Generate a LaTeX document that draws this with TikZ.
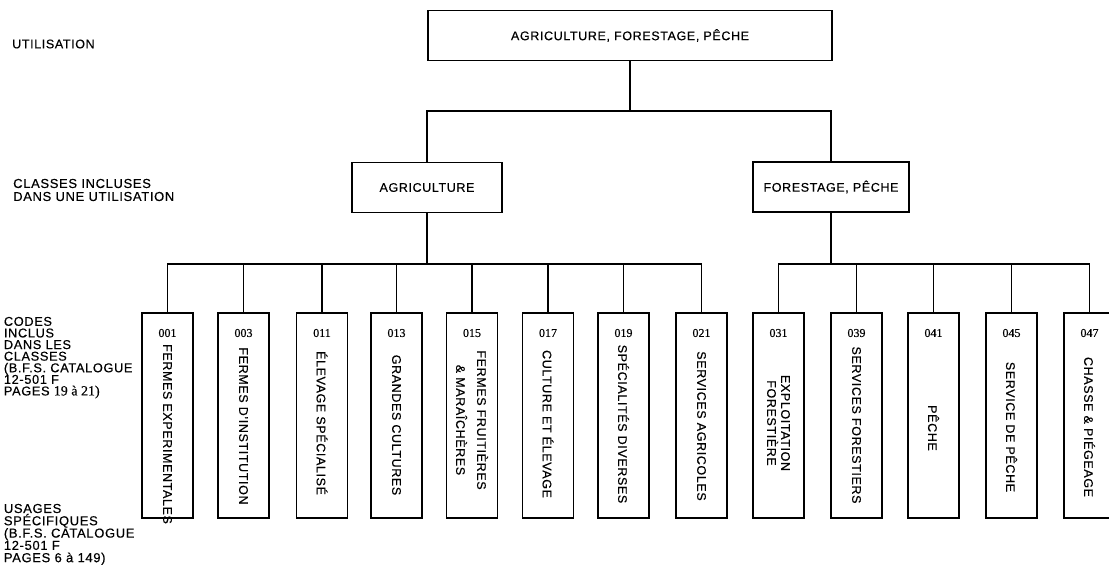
\documentclass[tikz,border=0pt]{standalone}
\usepackage{fontspec}
\setmainfont[LetterSpace=5,FakeBold=0.4]{Liberation Sans}
\newfontfamily\numfont[FakeBold=0.3]{Liberation Serif}
\begin{document}
\begin{tikzpicture}[x=1pt,y=-1pt,line width=1.8pt,
        lbl/.style={font=\fontsize{12.5}{13}\selectfont},
        headbox/.style={draw,rectangle,minimum height=50pt,lbl},
        codebox/.style={draw,rectangle,minimum width=51pt,minimum height=205pt},
        codenum/.style={font=\numfont\fontsize{12}{13}\selectfont},
        codetxt/.style={rotate=-90,align=center,font=\fontsize{12.5}{14}\selectfont}]
        \useasboundingbox (0,0) rectangle (1109,569);
        % left column
        \node[lbl,anchor=west] (lutil) at (8,44) {UTILISATION};
        \node[lbl,anchor=west,align=left,font=\fontsize{13}{13}\selectfont] (lclass) at (9,190)
                {CLASSES INCLUSES\\DANS UNE UTILISATION};
        \node[lbl,anchor=north west,align=left,inner sep=0pt,font=\fontsize{12.8}{11.6}\selectfont] (lcodes) at (3,316)
                {CODES\\INCLUS\\DANS LES\\CLASSES\\(B.F.S. CATALOGUE\\12-501 F\\PAGES {\numfont\fontsize{14}{11.6}\selectfont 19 à 21)}};
        \node[lbl,anchor=north west,align=left,inner sep=0pt,font=\fontsize{13}{12.3}\selectfont] (lusage) at (3,503)
                {USAGES\\SPÉCIFIQUES\\(B.F.S. CATALOGUE\\12-501 F\\PAGES 6 à 149)};
        % utilisation and classes
        \node[headbox,minimum width=404pt] (util) at (630,35.5) {AGRICULTURE, FORESTAGE, PÊCHE};
        \node[headbox,minimum width=150pt] (agri) at (427,187.5) {AGRICULTURE};
        \node[headbox,minimum width=156pt] (fore) at (831,187) {FORESTAGE, PÊCHE};
        \coordinate (utilbus) at (630,111);
        \coordinate (agribus) at (427,264);
        \coordinate (forebus) at (831,264);
        \draw (util.south) -- (utilbus);
        \draw (agri.north) |- (utilbus);
        \draw (fore.north) |- (utilbus);
        \draw (agri.south) -- (agribus);
        \draw (fore.south) -- (forebus);
        % codes
        \foreach \x/\n/\ty/\t/\bus in {
                167.5/001/434/{FERMES EXPERIMENTALES}/agribus,
                243.5/003/426/{FERMES D'INSTITUTION}/agribus,
                322/011/423/{ÉLEVAGE SPÉCIALISÉ}/agribus,
                396.5/013/425/{GRANDES CULTURES}/agribus,
                472/015/420/{FERMES FRUITIÈRES\\[7pt]\& MARAÎCHÈRES}/agribus,
                548/017/424/{CULTURE ET ÉLEVAGE}/agribus,
                623.5/019/424/{SPÉCIALITÉS DIVERSES}/agribus,
                701.5/021/426/{SERVICES AGRICOLES}/agribus,
                778.5/031/423/{EXPLOITATION\\FORESTIÈRE}/forebus,
                856.5/039/425/{SERVICES FORESTIERS}/forebus,
                933.5/041/428/{PÊCHE}/forebus,
                1011.5/045/427/{SERVICE DE PÊCHE}/forebus,
                1089.5/047/427/{CHASSE \& PIÉGEAGE}/forebus}
        {
                \node[codebox] (c\n) at (\x,415.5) {};
                \node[codenum] (n\n) at (\x,333) {\n};
                \node[codetxt] (t\n) at (\x,\ty) {\t};
                \draw (c\n.north) |- (\bus);
        }
\end{tikzpicture}
\end{document}
